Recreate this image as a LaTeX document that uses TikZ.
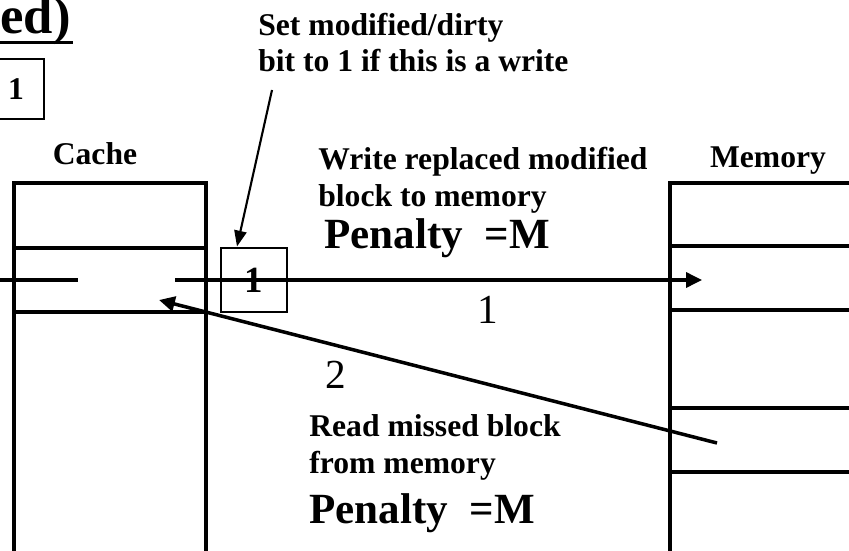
\documentclass[tikz,border=0pt]{standalone}
\usepackage{fontspec}
\setmainfont{Liberation Serif}
\usetikzlibrary{arrows.meta}

\begin{document}
\begin{tikzpicture}[x=1cm,y=1cm,
  font=\bfseries\fontsize{18}{20.5}\selectfont, >={Triangle[length=9pt,width=8.5pt]},
  wall/.style={line width=2.3pt},
  link/.style={->, line width=1.8pt},
  note/.style={inner sep=0pt, align=left, anchor=base west},
  big/.style={inner sep=0pt, anchor=base west, font=\bfseries\fontsize{24.5}{28}\selectfont},
  num/.style={inner sep=0pt, anchor=base, font=\fontsize{23.5}{26}\selectfont},
  bitbox/.style={draw, line width=1.7pt, minimum width=1.32cm, minimum height=1.28cm, inner sep=0pt},
]
\useasboundingbox (0,0) rectangle (16.98,-11);
\clip (0,0) rectangle (16.98,-11);
\node[inner sep=0pt, anchor=base east, font=\bfseries\fontsize{30}{34}\selectfont] (title) at (1.42,-0.68) {ued)};
\draw[line width=1.7pt] (-0.1,-0.85) -- (1.46,-0.85);
\node[draw, line width=1.1pt, minimum height=1.2cm, inner xsep=0.4cm, anchor=east] (flag) at (0.9,-1.78) {= 1};
\node[inner sep=0pt, anchor=base] (cachelbl) at (1.9,-3.28) {Cache};
\node[inner sep=0pt, anchor=base] (memlbl) at (15.36,-3.34) {Memory};
\draw[wall] (0.28,-11.2) |- (4.12,-3.66) -- (4.12,-11.2);
\draw[wall] (0.28,-4.96) -- (4.12,-4.96);
\draw[wall] (0.28,-6.24) -- (4.12,-6.24);
\draw[wall] (13.4,-11.2) |- (17.2,-3.66);
\draw[wall] (13.4,-4.92) -- (17.2,-4.92);
\draw[wall] (13.4,-6.2) -- (17.2,-6.2);
\draw[wall] (13.4,-8.16) -- (17.2,-8.16);
\draw[wall] (13.4,-9.44) -- (17.2,-9.44);
\coordinate (inleft) at (-0.2,-5.6);
\coordinate (inright) at (1.56,-5.6);
\coordinate (wbstart) at (3.5,-5.6);
\coordinate (wbend) at (14.04,-5.6);
\coordinate (rdstart) at (14.34,-8.86);
\coordinate (rdend) at (3.18,-6.0);
\draw[wall] (inleft) -- (inright);
\node[bitbox, font=\bfseries\fontsize{21}{24}\selectfont] (bit) at (5.08,-5.6) {1};
\draw[link] (wbstart) -- (wbend);
\draw[link, line width=2pt] (rdstart) -- (rdend);
\node[note] (setnote) at (5.16,-1.44) {Set modified/dirty\\bit to 1 if this is a write};
\coordinate (setfoot) at (5.44,-1.8);
\draw[->, line width=1.2pt, >={Triangle[length=9pt,width=7pt]}] (setfoot) -- (bit.north west -| 4.74,0);
\node[note] (wbnote) at (6.36,-4.12) {Write replaced modified\\block to memory};
\node[big] (wbpen) at (6.48,-4.96) {Penalty~~=M};
\node[num] (one) at (9.76,-6.46) {1};
\node[num] (two) at (6.72,-7.76) {2};
\node[note] (rdnote) at (6.18,-9.46) {Read missed block\\from memory};
\node[big] (rdpen) at (6.18,-10.46) {Penalty~~=M};
\end{tikzpicture}
\end{document}
